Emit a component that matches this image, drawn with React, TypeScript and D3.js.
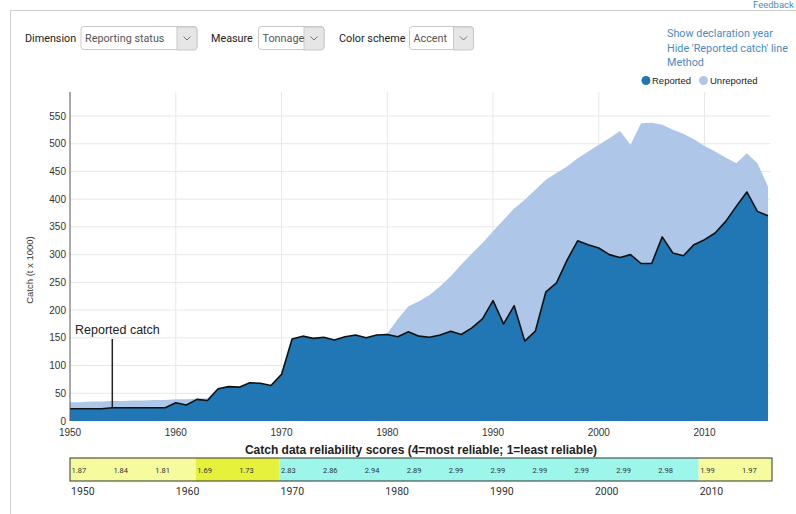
import { useMemo } from 'react';
import * as d3 from 'd3';

const W = 796,
  H = 514;

// catch, t x 1000
const years = d3.range(1950, 2017);
const reported = [
  22, 22, 22, 22, 24, 24, 24, 24, 24, 24,
  33, 29, 39, 37, 58, 62, 61, 69, 68, 64,
  84, 148, 153, 149, 151, 146, 152, 155, 150, 155,
  156, 152, 161, 153, 151, 155, 162, 156, 168, 184,
  217, 175, 208, 144, 162, 233, 249, 290, 325, 318,
  312, 300, 295, 300, 284, 284, 332, 303, 298, 318,
  327, 339, 360, 387, 413, 378, 370,
];
const unreported = [
  12, 12, 13, 13, 12, 12, 13, 13, 14, 14,
  6, 10, 1, 4, 0, 0, 0, 0, 0, 0,
  0, 0, 0, 0, 0, 0, 0, 0, 0, 0,
  2, 32, 46, 63, 76, 88, 99, 126, 134, 137,
  125, 188, 175, 255, 255, 202, 198, 169, 149, 168,
  186, 210, 228, 198, 253, 254, 202, 222, 220, 190,
  169, 147, 115, 78, 70, 87, 53,
];

const yTicks = [0, 50, 100, 150, 200, 250, 300, 350, 400, 450, 500, 550];
const decadeTicks = [1950, 1960, 1970, 1980, 1990, 2000, 2010];

// reliability score bar
const scoreYears = [1950, 1954, 1958, 1962, 1966, 1970, 1974, 1978, 1982, 1986, 1990, 1994, 1998, 2002, 2006, 2010, 2014];
const scoreLabels = ['1.87', '1.84', '1.81', '1.69', '1.73', '2.83', '2.86', '2.94', '2.89', '2.99', '2.99', '2.99', '2.99', '2.99', '2.98', '1.99', '1.97'];
const periodStart = [1950, 1962, 1970, 2010];
const periodEnd = [1961, 1969, 2009, 2016];
const periodClass = ['low', 'lowest', 'mid', 'low'];

const BLUE = '#2077b4';
const LIGHT = '#aec7e8';
const LINK = '#4a8bc2';
const FONT = 'Roboto, "Liberation Sans", Arial, sans-serif';
const ARIAL = "'Liberation Sans', Arial, sans-serif";

const SelectBox = ({ x, w, label }: { x: number; w: number; label: string }) => (
  <g>
    <rect x={x} y={26.5} width={w} height={23} rx={3} fill="#fff" stroke="#c8c8c8" />
    <path d={`M${x + w - 20},27 h17 a3,3 0 0 1 3,3 v17 a3,3 0 0 1 -3,3 h-17 z`} fill="#e6e6e6" stroke="#c8c8c8" />
    <path d={`M${x + w - 13.5},36.5 l3.5,3.5 l3.5,-3.5`} fill="none" stroke="#666" strokeWidth={0.9} />
    <text x={x + 4} y={41.5} fontSize={10.8} fill="#555">{label}</text>
  </g>
);

export default function App() {
  const x = d3.scaleLinear().domain([1950, 2016]).range([70, 768]);
  const y = d3.scaleLinear().domain([0, 550]).range([421, 116]);
  const band = d3.scaleBand<number>().domain(years).range([70, 772]);
  const scoreColor = d3.scaleOrdinal<string, string>().domain(['low', 'lowest', 'mid']).range(['#f6fb9e', '#e6f13c', '#9cf6e9']);

  const rows = useMemo(() => years.map((yr, i) => ({ year: yr, reported: reported[i], unreported: unreported[i] })), []);
  const series = d3.stack<any>().keys(['reported', 'unreported'])(rows);

  const area = d3
    .area<any>()
    .x((d) => x(d.data.year))
    .y0((d) => y(d[0]))
    .y1((d) => y(d[1]));
  const line = d3
    .line<number>()
    .x((_, i) => x(years[i]))
    .y((d) => y(d));

  return (
    <div style={{ position: 'absolute', left: 0, top: 0 }}>
      <svg width={W} height={H} style={{ display: 'block', fontFamily: FONT }}>
        <rect width={W} height={H} fill="#fff" />
        {/* panel frame */}
        <line x1={10} x2={W} y1={10.5} y2={10.5} stroke="#cfcfcf" />
        <line x1={10.5} x2={10.5} y1={10} y2={H} stroke="#cfcfcf" />
        <text x={753} y={8} fontSize={9.5} fill={LINK}>Feedback</text>

        {/* controls */}
        <text x={25} y={41.5} fontSize={10.8} fill="#222">Dimension</text>
        <SelectBox x={81} w={116} label="Reporting status" />
        <text x={211} y={41.5} fontSize={10.8} fill="#222">Measure</text>
        <SelectBox x={258.5} w={65.5} label="Tonnage" />
        <text x={339} y={41.5} fontSize={10.8} fill="#222">Color scheme</text>
        <SelectBox x={409.5} w={64} label="Accent" />

        <text x={667} y={37} fontSize={10.8} fill={LINK}>Show declaration year</text>
        <text x={667} y={51.5} fontSize={10.8} fill={LINK}>Hide 'Reported catch' line</text>
        <text x={667} y={66} fontSize={10.8} fill={LINK}>Method</text>

        {/* legend */}
        <circle cx={646} cy={80.5} r={4.5} fill={BLUE} />
        <text x={652} y={84} fontSize={9.5} fill="#222" fontFamily={ARIAL}>Reported</text>
        <circle cx={703.5} cy={80.5} r={4.5} fill={LIGHT} />
        <text x={710} y={84} fontSize={9.5} fill="#222" fontFamily={ARIAL}>Unreported</text>

        {/* grid */}
        {yTicks.slice(1).map((t) => (
          <line key={t} x1={70} x2={770} y1={y(t)} y2={y(t)} stroke="#e8e8e8" />
        ))}
        {decadeTicks.slice(1).map((t) => (
          <line key={t} x1={x(t)} x2={x(t)} y1={92} y2={421} stroke="#e8e8e8" />
        ))}

        {/* stacked areas */}
        <path d={area(series[1]) ?? ''} fill={LIGHT} />
        <path d={area(series[0]) ?? ''} fill={BLUE} />
        <path d={line(reported) ?? ''} fill="none" stroke="#111" strokeWidth={1.6} strokeLinejoin="round" />

        {/* axes */}
        <line x1={70} x2={70} y1={92} y2={421} stroke="#555" />
        {yTicks.map((t) => (
          <text key={t} x={66} y={y(t)} dy="0.35em" textAnchor="end" fontSize={10} fill="#333" fontFamily={ARIAL}>
            {t}
          </text>
        ))}
        {decadeTicks.map((t) => (
          <text key={t} x={x(t)} y={436} textAnchor="middle" fontSize={10} fill="#333" fontFamily={ARIAL}>
            {t}
          </text>
        ))}
        <text transform="translate(33,270) rotate(-90)" textAnchor="middle" fontSize={9.5} fill="#333" fontFamily={ARIAL}>
          Catch (t x 1000)
        </text>

        {/* annotation */}
        <line x1={x(1954)} x2={x(1954)} y1={339} y2={y(reported[4])} stroke="#222" strokeWidth={1.5} />
        <text x={75} y={334} fontSize={12.5} fill="#222" fontFamily={ARIAL}>Reported catch</text>

        {/* reliability scores */}
        <text x={421} y={454} textAnchor="middle" fontSize={12} fontWeight="bold" fill="#222" fontFamily={ARIAL}>
          Catch data reliability scores (4=most reliable; 1=least reliable)
        </text>
        {periodStart.map((s, i) => (
          <rect
            key={s}
            x={band(s)}
            y={458}
            width={(band(periodEnd[i]) ?? 0) + band.bandwidth() - (band(s) ?? 0)}
            height={23}
            fill={scoreColor(periodClass[i])}
          />
        ))}
        <rect x={70} y={458} width={702} height={23} fill="none" stroke="#333" />
        {scoreYears.map((yr, i) => (
          <text key={yr} x={(band(yr) ?? 0) + 1.5} y={472.5} fontSize={7.5} fill="#333">
            {scoreLabels[i]}
          </text>
        ))}
        {decadeTicks.map((t) => (
          <text key={t} x={(band(t) ?? 0) + 1} y={495} fontSize={10.5} fill="#333">
            {t}
          </text>
        ))}
      </svg>
    </div>
  );
}
